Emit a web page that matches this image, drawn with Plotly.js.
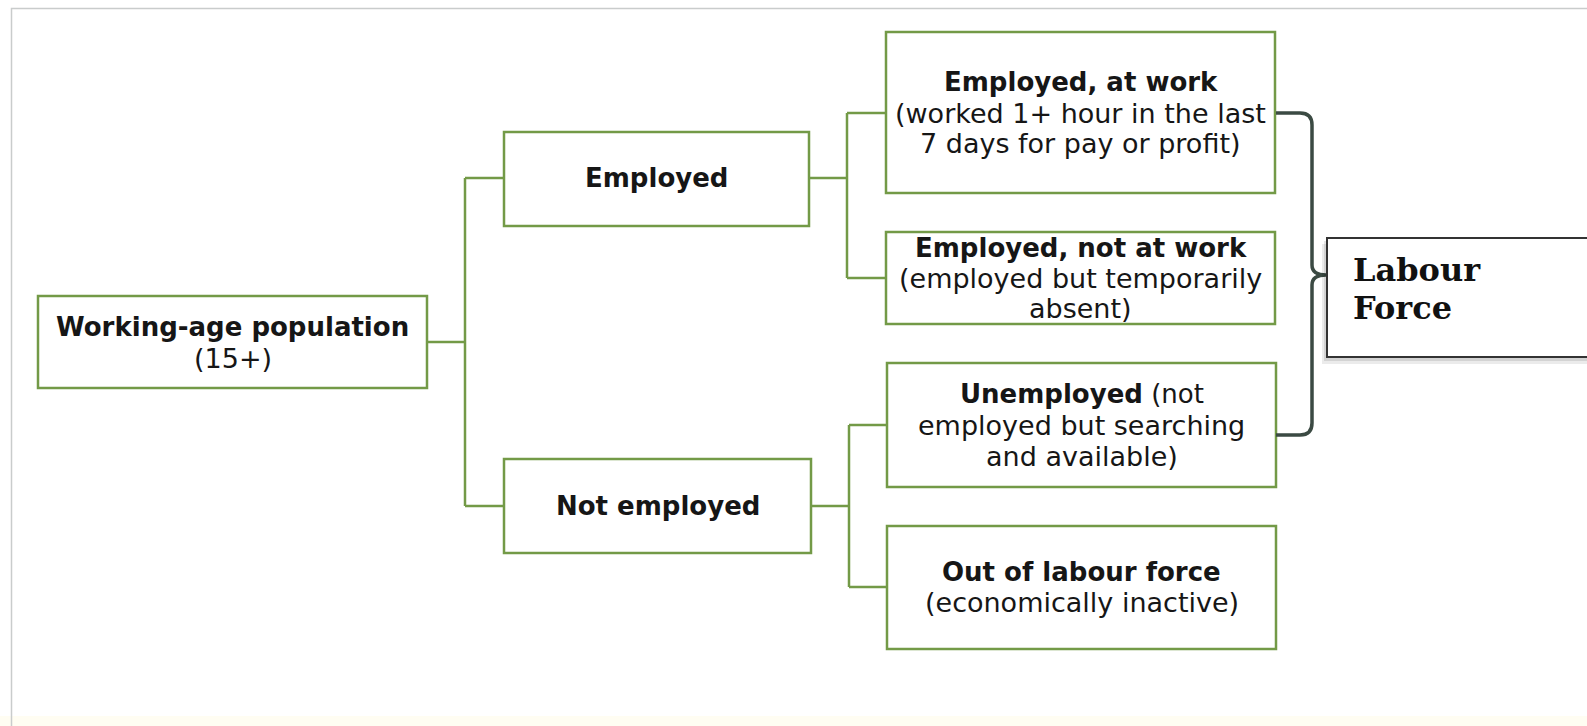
<!DOCTYPE html>
<html>
<head>
<meta charset="utf-8">
<script src="https://cdn.plot.ly/plotly-3.0.1.min.js"></script>
<style>
  html, body { margin: 0; padding: 0; background: #ffffff; }
  #chart { width: 1587px; height: 726px; }
</style>
</head>
<body>
<div id="chart"></div>
<script>
// ---- Diagram content (text only) ----
const nodeIds     = ["pop", "emp", "notemp", "atwork", "notatwork", "unemp", "olf"];
const nodeTitles  = ["Working-age population", "Employed", "Not employed",
                     "Employed, at work", "Employed, not at work", "Unemployed", "Out of labour force"];
const nodeNotes   = [["(15+)"], [], [],
                     ["(worked 1+ hour in the last", "7 days for pay or profit)"],
                     ["(employed but temporarily", "absent)"],
                     [" (not", "employed but searching", "and available)"],
                     ["(economically inactive)"]];
const parentOf    = [null, "pop", "pop", "emp", "emp", "notemp", "notemp"];
const groupLabel  = ["Labour", "Force"];
const groupMembers = ["atwork", "notatwork", "unemp"];

// ---- Geometry / style (layout only, pixel-like axis units) ----
const geom = {
  pop:       {x0: 38,  y0: 296, x1: 427,  y1: 388, lines: [327, 358]},
  emp:       {x0: 504, y0: 132, x1: 809,  y1: 226, lines: [178]},
  notemp:    {x0: 504, y0: 459, x1: 811,  y1: 553, lines: [506]},
  atwork:    {x0: 886, y0: 32,  x1: 1275, y1: 193, lines: [82, 113, 143]},
  notatwork: {x0: 886, y0: 232, x1: 1275, y1: 324, lines: [248, 278, 308]},
  unemp:     {x0: 887, y0: 363, x1: 1276, y1: 487, lines: [394, 425, 456]},
  olf:       {x0: 887, y0: 526, x1: 1276, y1: 649, lines: [572, 602]}
};
const childAnchor = {emp: 178, notemp: 506, atwork: 113, notatwork: 278, unemp: 425, olf: 587};
const parentAnchor = {pop: 342, emp: 178, notemp: 506};
const trunkX = {pop: 465, emp: 847, notemp: 849};
const GREEN = "#739a47";
const TEXT = "#161616";
const SANS = "DejaVu Sans, sans-serif";

const shapes = [];
const annotations = [];

// outer frame + faint bottom strip
shapes.push({type: "rect", xref: "x", yref: "y", x0: 0, x1: 1587, y0: 716, y1: 726,
             fillcolor: "#fffdf2", line: {width: 0}, layer: "below"});
shapes.push({type: "rect", xref: "x", yref: "y", x0: 11.5, x1: 1620, y0: 8.5, y1: 760,
             fillcolor: "rgba(0,0,0,0)", line: {color: "#c9cccc", width: 1.5}});

// boxes + texts
nodeIds.forEach((id, i) => {
  const g = geom[id];
  shapes.push({type: "rect", xref: "x", yref: "y", x0: g.x0, x1: g.x1, y0: g.y0, y1: g.y1,
               fillcolor: "#ffffff", line: {color: GREEN, width: 2.5}});
  const cx = (g.x0 + g.x1) / 2;
  let lines;
  if (id === "unemp") {
    lines = ["<b>" + nodeTitles[i] + "</b>" + nodeNotes[i][0], nodeNotes[i][1], nodeNotes[i][2]];
  } else {
    lines = ["<b>" + nodeTitles[i] + "</b>"].concat(nodeNotes[i]);
  }
  lines.forEach((t, k) => {
    const isBoldLine = (k === 0);
    annotations.push({xref: "x", yref: "y", x: cx, y: g.lines[k], text: t, showarrow: false,
                      xanchor: "center", yanchor: "middle",
                      font: {family: SANS, size: isBoldLine ? 26 : 27, color: TEXT}});
  });
});

// connectors
const trunks = {};
nodeIds.forEach((id, i) => {
  const p = parentOf[i];
  if (!p) return;
  (trunks[p] = trunks[p] || []).push(id);
});
Object.keys(trunks).forEach(p => {
  const kids = trunks[p];
  const tx = trunkX[p];
  const pg = geom[p];
  shapes.push({type: "line", xref: "x", yref: "y", x0: pg.x1, x1: tx, y0: parentAnchor[p], y1: parentAnchor[p],
               line: {color: GREEN, width: 2.5}});
  const ys = kids.map(k => childAnchor[k]);
  shapes.push({type: "line", xref: "x", yref: "y", x0: tx, x1: tx, y0: Math.min(...ys), y1: Math.max(...ys),
               line: {color: GREEN, width: 2.5}});
  kids.forEach(k => {
    shapes.push({type: "line", xref: "x", yref: "y", x0: tx, x1: geom[k].x0, y0: childAnchor[k], y1: childAnchor[k],
                 line: {color: GREEN, width: 2.5}});
  });
});

// brace grouping the labour force members
const bTop = childAnchor[groupMembers[0]];
const bBot = 435;
const bX = 1312, bTip = 1326, bMid = 275, bStart = 1276;
shapes.push({type: "path", xref: "x", yref: "y",
  path: `M${bStart},${bTop} L${bX-12},${bTop} Q${bX},${bTop} ${bX},${bTop+12} L${bX},${bMid-10} ` +
        `Q${bX},${bMid} ${bTip},${bMid} Q${bX},${bMid} ${bX},${bMid+10} L${bX},${bBot-12} ` +
        `Q${bX},${bBot} ${bX-12},${bBot} L${bStart},${bBot}`,
  line: {color: "#3b4a43", width: 3.5}, fillcolor: "rgba(0,0,0,0)"});

// Labour force box with shadow
shapes.push({type: "rect", xref: "x", yref: "y", x0: 1322, x1: 1620, y0: 244, y1: 364,
             fillcolor: "rgba(0,0,0,0.08)", line: {width: 0}});
shapes.push({type: "rect", xref: "x", yref: "y", x0: 1324, x1: 1620, y0: 241, y1: 361,
             fillcolor: "rgba(0,0,0,0.10)", line: {width: 0}});
shapes.push({type: "rect", xref: "x", yref: "y", x0: 1327, x1: 1620, y0: 238, y1: 357,
             fillcolor: "#ffffff", line: {color: "#333333", width: 2}});
[270, 308].forEach((y, k) => {
  annotations.push({xref: "x", yref: "y", x: 1351, y: y, text: "<b>" + groupLabel[k] + "</b>",
                    showarrow: false, xanchor: "left", yanchor: "middle",
                    font: {family: "DejaVu Serif, serif", size: 32, color: "#111111"}});
});

const layout = {
  width: 1587, height: 726,
  margin: {l: 0, r: 0, t: 0, b: 0, pad: 0},
  paper_bgcolor: "#ffffff", plot_bgcolor: "#ffffff",
  showlegend: false,
  xaxis: {range: [0, 1587], visible: false, fixedrange: true},
  yaxis: {range: [726, 0], visible: false, fixedrange: true},
  shapes: shapes,
  annotations: annotations
};

Plotly.newPlot("chart", [], layout, {displayModeBar: false, staticPlot: true});
</script>
</body>
</html>
